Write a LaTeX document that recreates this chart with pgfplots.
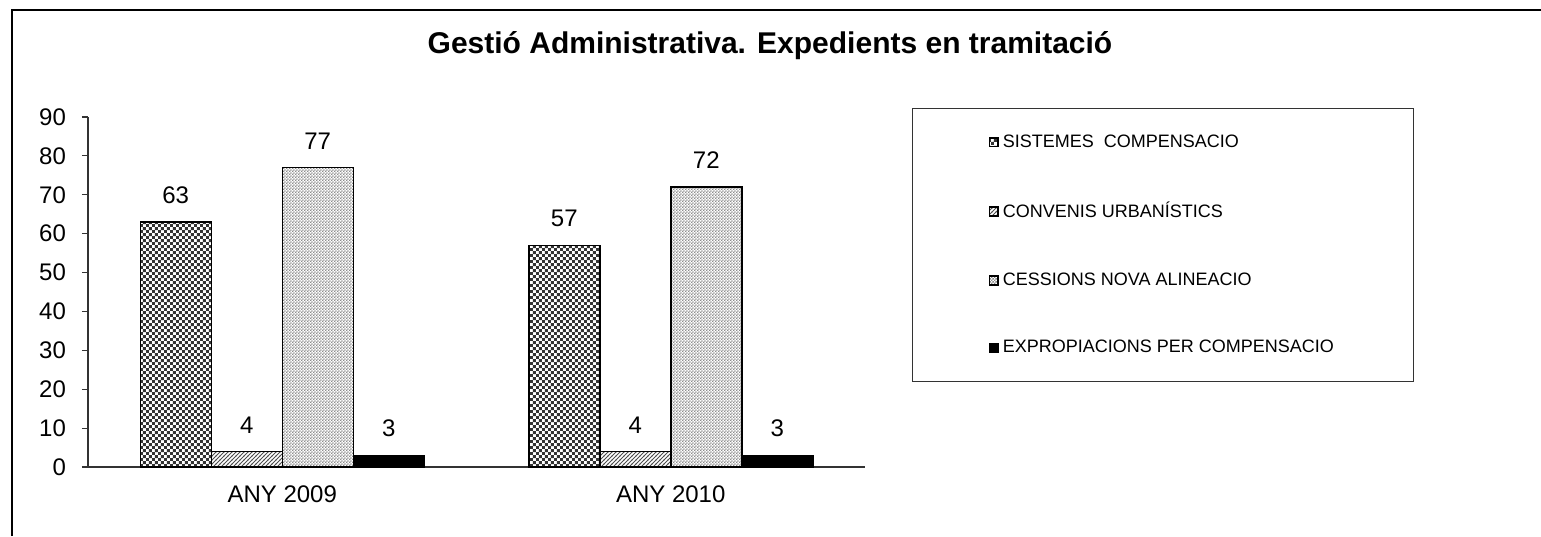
\documentclass[border=0pt]{standalone}
\usepackage{pgfplots}
\pgfplotsset{compat=1.18}
\usepackage{fontspec}
\setmainfont{Liberation Sans}
\usetikzlibrary{patterns}
\pgfdeclarepatternformonly{mychecker}{\pgfqpoint{0pt}{0pt}}{\pgfqpoint{3.2pt}{3.2pt}}{\pgfqpoint{3.2pt}{3.2pt}}{%
 \pgfpathrectangle{\pgfqpoint{0pt}{0pt}}{\pgfqpoint{1.6pt}{1.6pt}}%
 \pgfpathrectangle{\pgfqpoint{1.6pt}{1.6pt}}{\pgfqpoint{1.6pt}{1.6pt}}%
 \pgfusepath{fill}}
\pgfdeclarepatternformonly{mydiag}{\pgfqpoint{-0.5pt}{-0.5pt}}{\pgfqpoint{2.5pt}{2.5pt}}{\pgfqpoint{2pt}{2pt}}{%
 \pgfsetlinewidth{0.45pt}%
 \pgfpathmoveto{\pgfqpoint{-0.2pt}{-0.2pt}}\pgfpathlineto{\pgfqpoint{2.2pt}{2.2pt}}%
 \pgfusepath{stroke}}
\pgfdeclarepatternformonly{mydots}{\pgfqpoint{0pt}{0pt}}{\pgfqpoint{1.4pt}{1.4pt}}{\pgfqpoint{1.4pt}{1.4pt}}{%
 \pgfpathrectangle{\pgfqpoint{0pt}{0pt}}{\pgfqpoint{0.7pt}{0.7pt}}%
 \pgfpathrectangle{\pgfqpoint{0.7pt}{0.7pt}}{\pgfqpoint{0.7pt}{0.7pt}}%
 \pgfusepath{fill}}
\begin{document}
\begin{tikzpicture}
\path[use as bounding box] (0,0) rectangle (770.5pt,268pt);
\draw[line width=1pt] (5.75pt,0) -- (5.75pt,262.75pt) -- (770.5pt,262.75pt);
\node[font=\bfseries\fontsize{15}{18}\selectfont] at (385pt,245pt) {Gestió Administrativa. Expedients en tramitació};
\begin{axis}[
  at={(44pt,34.5pt)}, anchor=south west,
  scale only axis, width=388.5pt, height=175pt,
  ybar=0pt, bar width=35.5pt,
  xmin=-0.5, xmax=1.5, ymin=0, ymax=90,
  axis x line=bottom, axis y line=left,
  axis line style={-, black!80, line width=0.6pt},
  ytick={0,10,...,90},
  ytick style={black!80, line width=0.6pt},
  major tick length=3pt,
  tick align=outside,
  xtick={0,1}, xticklabels={ANY 2009, ANY 2010},
  x tick style={draw=none},
  extra x ticks={-0.5,0.5,1.5}, extra x tick labels={},
  extra x tick style={tick style={draw=black!80, line width=0.6pt}},
  tick label style={font=\fontsize{12}{14}\selectfont},
  /pgf/number format/assume math mode=true,
  yticklabel style={xshift=-4.5pt},
  xticklabel style={yshift=-3pt},
  nodes near coords,
  every node near coord/.append style={font=\fontsize{12}{14}\selectfont, inner sep=0pt, yshift=8.7pt, black},
  legend style={at={(1.0605,1.0257)}, anchor=north west, draw=black!80, line width=0.5pt,
     font=\fontsize{9}{11}\selectfont, inner xsep=38pt, inner ysep=11pt,
     row sep=22pt, cells={anchor=west}},
  legend cell align=left,
  legend image code/.code={\draw[#1, line width=0.8pt] (0pt,-2.2pt) rectangle (4.4pt,2.2pt);},
]
\addplot[draw=black, line width=0.75pt, pattern=mychecker, pattern color=black!80] coordinates {(0,63) (1,57)};
\addplot[draw=black, line width=0.75pt, pattern=mydiag, pattern color=black!70] coordinates {(0,4) (1,4)};
\addplot[draw=black, line width=0.75pt, pattern=mydots, pattern color=black!45] coordinates {(0,77) (1,72)};
\addplot[draw=black, line width=0.75pt, fill=black] coordinates {(0,3) (1,3)};
\legend{SISTEMES\ \ COMPENSACIO, CONVENIS URBANÍSTICS, CESSIONS NOVA ALINEACIO, EXPROPIACIONS PER COMPENSACIO}
\end{axis}
\end{tikzpicture}
\end{document}
